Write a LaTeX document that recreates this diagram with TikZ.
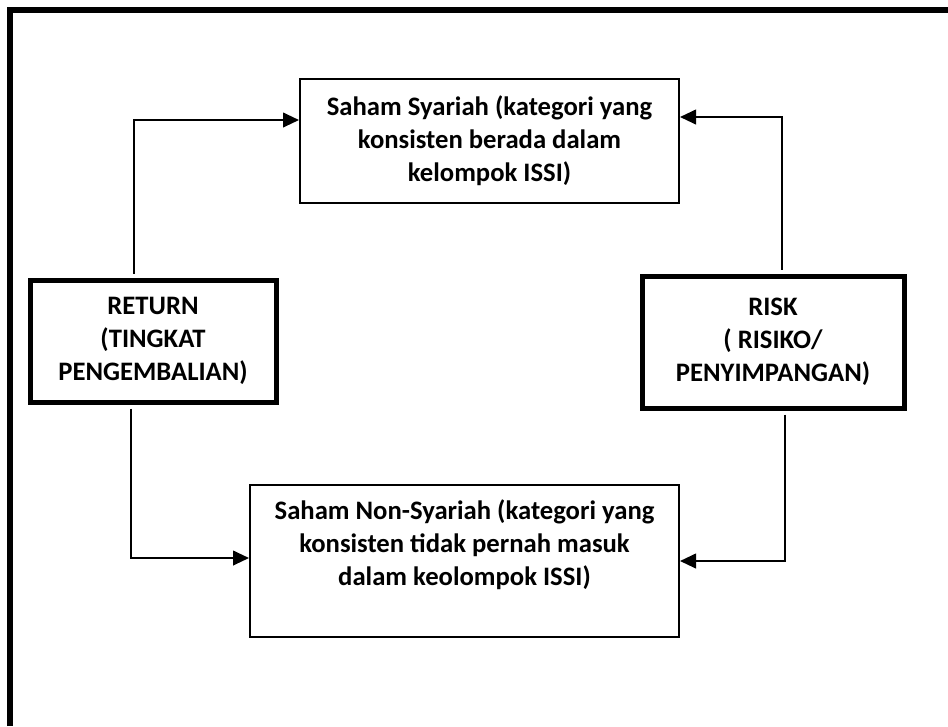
\documentclass[tikz,border=0pt]{standalone}
\usepackage{fontspec}
\setmainfont{Carlito}
\usetikzlibrary{arrows.meta,calc}

\begin{document}
\begin{tikzpicture}[x=0.75pt, y=-0.75pt, >={Triangle[length=12pt,width=11pt]},
  every node/.style={font=\bfseries\fontsize{20}{24.75}\selectfont, align=center},
  stockbox/.style={draw, line width=1.5pt, inner sep=0pt},
  factorbox/.style={draw, line width=3.75pt, inner sep=0pt},
  link/.style={->, line width=1.5pt, shorten <=3pt},
  frameline/.style={line width=4pt}]

  \useasboundingbox (0,0) rectangle (948,726);

  % --- Outer frame (top and left only) ---
  \draw[frameline] (10,726) -- (10,10) -- (948,10);

  % --- Stock categories ---
  \node[stockbox, minimum width=284.25pt, minimum height=93pt] (syariah) at (489.5,141)
    {Saham Syariah (kategori yang\\konsisten berada dalam\\kelompok ISSI)};
  \node[stockbox, minimum width=321.75pt, minimum height=114pt, anchor=north] (nonsyariah) at (464.5,484) {};
  \node (nonsyariahtext) at ($(nonsyariah.north)+(0,61)$)
    {Saham Non-Syariah (kategori yang\\konsisten tidak pernah masuk\\dalam keolompok ISSI)};

  % --- Return and risk ---
  \node[factorbox, minimum width=184.5pt, minimum height=91.5pt] (return) at (153,341)
    {RETURN\\(TINGKAT\\PENGEMBALIAN)};
  \node[factorbox, minimum width=196.5pt, minimum height=99pt] (risk) at (773,342)
    {RISK\\( RISIKO/\\PENYIMPANGAN)};

  % --- Connectors ---
  \draw[link] ($(return.north)+(-19,0)$) |- ($(syariah.west)+(0,-21)$);
  \draw[link] ($(risk.north)+(9,0)$) |- ($(syariah.east)+(0,-24)$);
  \draw[link] ($(return.south)+(-22,0)$) |- ($(nonsyariah.west)+(0,-3)$);
  \draw[link] ($(risk.south)+(12,0)$) |- (nonsyariah.east);

\end{tikzpicture}
\end{document}
